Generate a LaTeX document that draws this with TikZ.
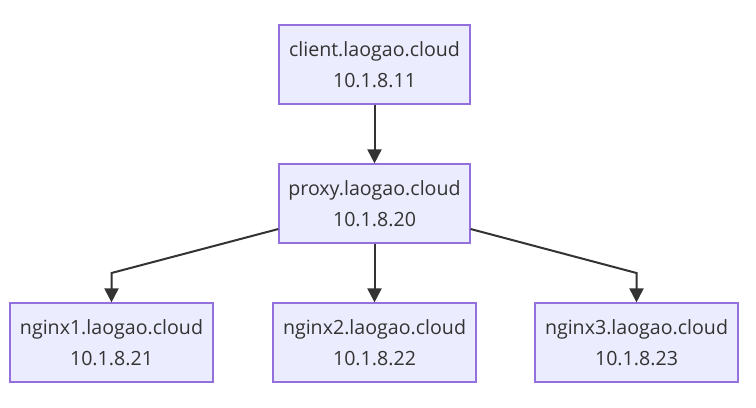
\documentclass[tikz,border=0pt]{standalone}
\usepackage{fontspec}
\setmainfont{Open Sans}
\usetikzlibrary{arrows.meta}
\definecolor{boxfill}{HTML}{ECECFF}
\definecolor{boxline}{HTML}{9370DB}
\definecolor{ink}{HTML}{333333}
\begin{document}
\begin{tikzpicture}[x=0.75pt,y=-0.75pt,
  hostbox/.style={draw=boxline,fill=boxfill,line width=0.9pt,minimum width=143.25pt,minimum height=59.25pt,inner sep=0pt,align=center,text=ink,font=\fontsize{14.7}{23.25}\selectfont},
  widebox/.style={hostbox,minimum width=152.25pt},
  link/.style={draw=ink,line width=1.5pt,-{Triangle[width=10.5pt,length=10.5pt]}}]
\useasboundingbox (0,0) rectangle (756,407);
\node[hostbox] (client) at (374.5,64.5) {client.laogao.cloud\\10.1.8.11};
\node[hostbox] (proxy) at (374.5,203.5) {proxy.laogao.cloud\\10.1.8.20};
\node[widebox] (n1) at (111.5,342.5) {nginx1.laogao.cloud\\10.1.8.21};
\node[widebox] (n2) at (374.5,342.5) {nginx2.laogao.cloud\\10.1.8.22};
\node[widebox] (n3) at (636.5,342.5) {nginx3.laogao.cloud\\10.1.8.23};
\coordinate (b1) at (111.5,273);
\coordinate (b3) at (636.5,273);
\draw[link] (client) -- (proxy);
\draw[link] (proxy) -- (n2);
\draw[link] (proxy.west |- 0,229) -- (b1) -- (n1);
\draw[link] (proxy.east |- 0,229) -- (b3) -- (n3);
\end{tikzpicture}
\end{document}
